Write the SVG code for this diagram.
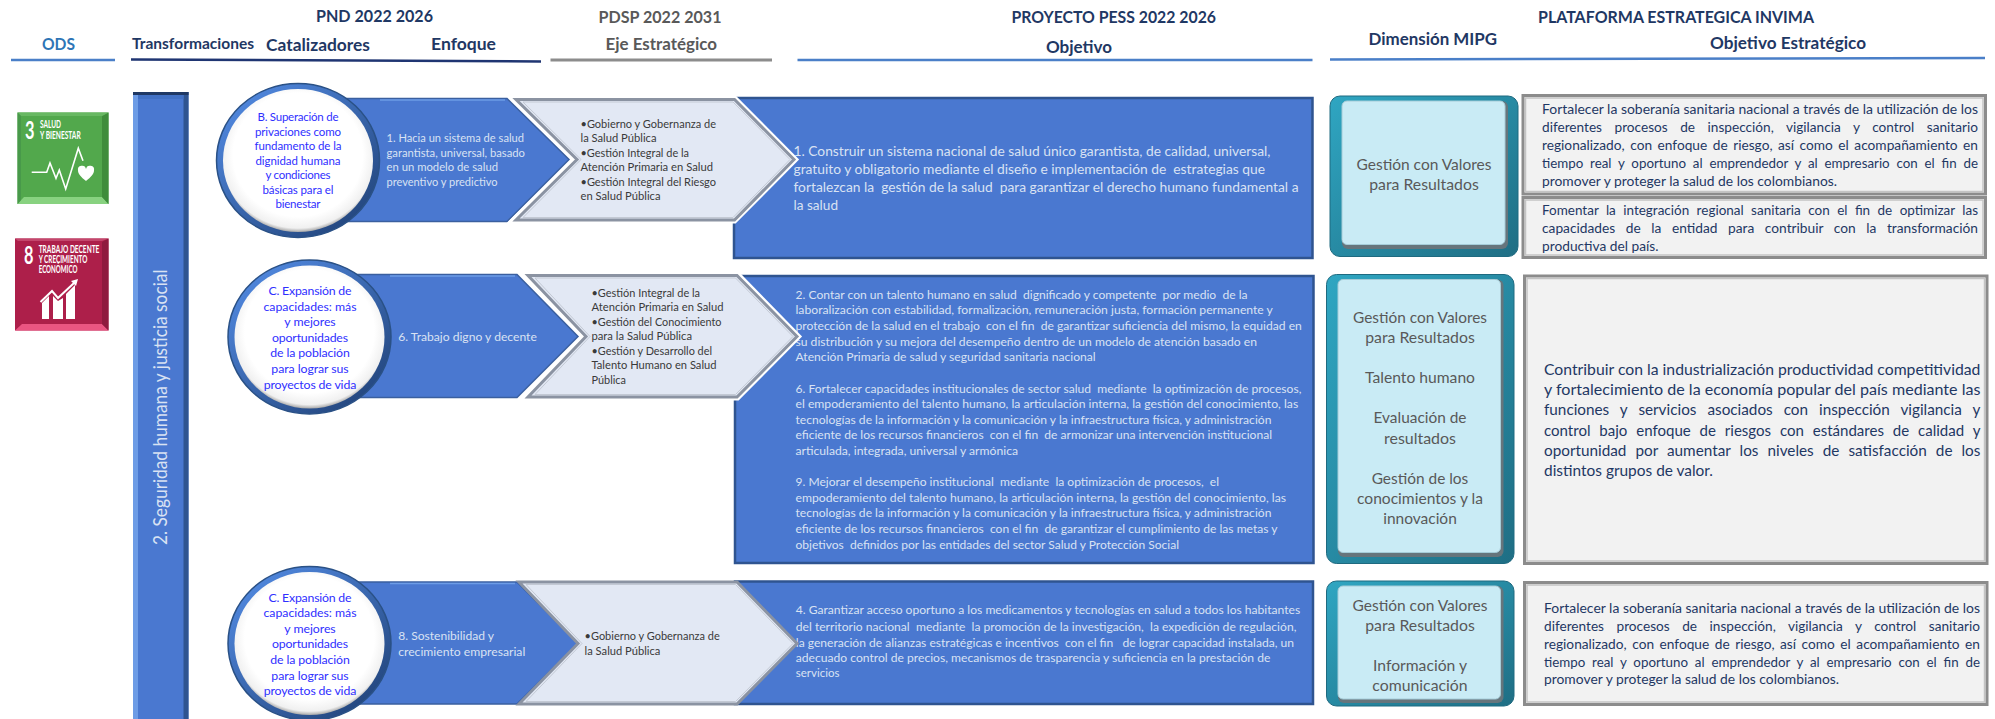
<svg xmlns="http://www.w3.org/2000/svg" width="1995" height="719" viewBox="0 0 1995 719">
<style>
text{font-family:Lato,"Open Sans","Liberation Sans",sans-serif;white-space:pre}
.h{font-size:17px;font-weight:700;fill:#1f3864}
.hg{font-size:17px;font-weight:700;fill:#595959}
.w11{font-size:11.5px;fill:#d9e2f3}
.w12{font-size:12px;fill:#d9e2f3}
.w13{font-size:13.5px;fill:#d9e2f3}
.k{font-size:11.5px;fill:#3a3a3a}
.c{font-size:11.5px;fill:#2f2fff;text-anchor:middle}
.c2{font-size:12.3px;fill:#2f2fff;text-anchor:middle}
.t{font-size:15px;fill:#595959;text-anchor:middle}
.n{font-size:13.6px;fill:#1f3864}
.n2{font-size:15px;fill:#1f3864}
.s{font-weight:700;fill:#fff}
.blue{fill:#4a78d0;stroke:#2f5490;stroke-width:2.5}
.chev{fill:#4a78d0;stroke:#3a5f9f;stroke-width:1.5}
.gchev{fill:#e2e8f4;stroke:#8b93a2;stroke-width:3}
.gi{fill:none;stroke:#c3c9d4;stroke-width:1}
.gbox{fill:#f2f2f2;stroke:#8c8c8c;stroke-width:3}
.gin{fill:none;stroke:#c4c4c4;stroke-width:1.5}
.teal{fill:url(#tg);stroke:#1f6a80;stroke-width:1}
.tsh{fill:#66757c}
.tin{fill:#c9ebf5;stroke:#a5ccd8;stroke-width:1}
.ring{fill:url(#rg);stroke:#2a5186;stroke-width:1.5}
.in{fill:url(#cg)}
</style>
<defs>
<linearGradient id="tg" x1="0" y1="0" x2="1" y2="1"><stop offset="0" stop-color="#2fa6c2"/><stop offset="1" stop-color="#1f6e84"/></linearGradient>
<linearGradient id="rg" x1="0.15" y1="0.1" x2="0.85" y2="0.9"><stop offset="0" stop-color="#4f86dc"/><stop offset="1" stop-color="#24477f"/></linearGradient>
<radialGradient id="cg" cx="0.5" cy="0.46" r="0.54"><stop offset="0.8" stop-color="#fff"/><stop offset="0.95" stop-color="#f0f0f0"/><stop offset="1" stop-color="#a8a8a8"/></radialGradient>
</defs>

<g id="headers">
<text class="h" x="316" y="22" textLength="117" lengthAdjust="spacingAndGlyphs">PND 2022 2026</text>
<text x="42" y="50" textLength="33" lengthAdjust="spacingAndGlyphs" style="font-size:17px;font-weight:700;fill:#2e75b6">ODS</text>
<text class="h" x="132" y="48.5" textLength="122" lengthAdjust="spacingAndGlyphs" style="font-size:15.5px">Transformaciones</text>
<text class="h" x="266" y="50.5" textLength="104" lengthAdjust="spacingAndGlyphs">Catalizadores</text>
<text class="h" x="431" y="50" textLength="65" lengthAdjust="spacingAndGlyphs">Enfoque</text>
<text class="hg" x="598.5" y="23" textLength="123" lengthAdjust="spacingAndGlyphs">PDSP 2022 2031</text>
<text class="hg" x="605.5" y="50" textLength="111.5" lengthAdjust="spacingAndGlyphs">Eje Estratégico</text>
<text class="h" x="1011.5" y="22.5" textLength="204.5" lengthAdjust="spacingAndGlyphs">PROYECTO PESS 2022 2026</text>
<text class="h" x="1046" y="52.5" textLength="66" lengthAdjust="spacingAndGlyphs">Objetivo</text>
<text class="h" x="1538" y="22.5" textLength="276" lengthAdjust="spacingAndGlyphs">PLATAFORMA ESTRATEGICA INVIMA</text>
<text class="h" x="1368.5" y="44.5" textLength="128.5" lengthAdjust="spacingAndGlyphs">Dimensión MIPG</text>
<text class="h" x="1710" y="48.5" textLength="156" lengthAdjust="spacingAndGlyphs">Objetivo Estratégico</text>
<path d="M11 60H115" stroke="#4a7fc8" stroke-width="2.5"/>
<path d="M131 59.5L541 61.5" stroke="#1f3572" stroke-width="2.5"/>
<path d="M550.5 60H772" stroke="#8c8c8c" stroke-width="3"/>
<path d="M797.5 60H1312.5" stroke="#4a7fc8" stroke-width="2.5"/>
<path d="M1330 59.5L1985 58" stroke="#4a7fc8" stroke-width="2.5"/>
</g>

<g id="ods-3">
<rect x="17.5" y="112.5" width="91" height="91.5" fill="#52a84c"/>
<polygon points="17.5,204 108.5,204 102,197 24,197" fill="#88d280"/>
<polygon points="108.5,112.5 108.5,204 102,197 102,116" fill="#3f8d3b"/>
<polygon points="17.5,112.5 108.5,112.5 102,116 21,116" fill="#68b862"/>
<polygon points="17.5,112.5 17.5,204 21,200 21,116" fill="#48994a"/>
<text class="s" x="25" y="139" textLength="9.5" lengthAdjust="spacingAndGlyphs" style="font-size:25px">3</text>
<text class="s" x="40" y="128" textLength="21" lengthAdjust="spacingAndGlyphs" style="font-size:10.5px">SALUD</text>
<text class="s" x="40" y="139" textLength="40.7" lengthAdjust="spacingAndGlyphs" style="font-size:10.5px">Y BIENESTAR</text>
<polyline points="31.7,172.3 46.7,172.3 50,163 56,178.3 59.3,170 65.7,189 78.3,148.3 83,160.7" fill="none" stroke="#fff" stroke-width="1.6"/>
<path d="M86 181c-5-4-8-7-8-10.5a4 4 0 0 1 8-1.5a4 4 0 0 1 8 1.5c0 3.5-3 6.5-8 10.5z" fill="#fff"/>
</g>
<g id="ods-8">
<rect x="15" y="238.5" width="93.5" height="92" fill="#ad1f4a"/>
<polygon points="15,330.5 108.5,330.5 102,324 22,324" fill="#ea5582"/>
<polygon points="108.5,238.5 108.5,330.5 102,324 102,242" fill="#8f1a3e"/>
<polygon points="15,238.5 108.5,238.5 102,241 18,241" fill="#c4466c"/>
<text class="s" x="24" y="264" textLength="9.5" lengthAdjust="spacingAndGlyphs" style="font-size:25px">8</text>
<text class="s" x="38.7" y="253" textLength="60.7" lengthAdjust="spacingAndGlyphs" style="font-size:10.5px">TRABAJO DECENTE</text>
<text class="s" x="38.7" y="263.3" textLength="48.7" lengthAdjust="spacingAndGlyphs" style="font-size:10.5px">Y CRECIMIENTO</text>
<text class="s" x="38.7" y="273.3" textLength="38.7" lengthAdjust="spacingAndGlyphs" style="font-size:10.5px">ECONÓMICO</text>
<polygon points="42,303 49,296 49,319 42,319" fill="#fff"/>
<polygon points="53,296 58,301 63,298 63,319 53,319" fill="#fff"/>
<polygon points="66,294 75,285 75,319 66,319" fill="#fff"/>
<polyline points="40.5,302 52,291 58,298 74,283" fill="none" stroke="#fff" stroke-width="2"/>
<polygon points="78,279 71,281 76,286" fill="#fff"/>
</g>

<g id="eje-seguridad">
<rect x="133" y="92" width="55.5" height="627" fill="#4a78d0"/>
<rect x="133" y="92" width="5" height="627" fill="#6d9ce6"/>
<rect x="183.5" y="92" width="5" height="627" fill="#2f5490"/>
<rect x="133" y="92" width="55.5" height="3" fill="#1f3864"/>
<rect x="138" y="95" width="45.5" height="4" fill="#4170c4"/>
<text transform="translate(166.7 545) rotate(-90)" x="0" y="0" textLength="275.5" lengthAdjust="spacingAndGlyphs" style="font-size:18.5px;fill:#d9e2f3">2. Seguridad humana y justicia social</text>
</g>

<g id="objetivo-1">
<rect class="blue" x="734" y="98" width="578.5" height="160"/>
<text class="w13" x="793.5" y="156" textLength="477" lengthAdjust="spacingAndGlyphs">1. Construir un sistema nacional de salud único garantista, de calidad, universal,</text>
<text class="w13" x="793.5" y="174" textLength="471.5" lengthAdjust="spacingAndGlyphs">gratuito y obligatorio mediante el diseño e implementación de  estrategias que</text>
<text class="w13" x="793.5" y="192" textLength="505" lengthAdjust="spacingAndGlyphs">fortalezcan la  gestión de la salud  para garantizar el derecho humano fundamental a</text>
<text class="w13" x="793.5" y="210" textLength="44.5" lengthAdjust="spacingAndGlyphs">la salud</text>
</g>
<g id="objetivo-2">
<rect class="blue" x="735" y="276" width="578.5" height="287"/>
<text class="w12" x="795.5" y="299" textLength="452" lengthAdjust="spacingAndGlyphs">2. Contar con un talento humano en salud  dignificado y competente  por medio  de la</text>
<text class="w12" x="795.5" y="314.3" textLength="477.4" lengthAdjust="spacingAndGlyphs">laboralización con estabilidad, formalización, remuneración justa, formación permanente y</text>
<text class="w12" x="795.5" y="330" textLength="506.3" lengthAdjust="spacingAndGlyphs">protección de la salud en el trabajo  con el fin  de garantizar suficiencia del mismo, la equidad en</text>
<text class="w12" x="795.5" y="345.7" textLength="461.5" lengthAdjust="spacingAndGlyphs">su distribución y su mejora del desempeño dentro de un modelo de atención basado en</text>
<text class="w12" x="795.5" y="361.3" textLength="300.2" lengthAdjust="spacingAndGlyphs">Atención Primaria de salud y seguridad sanitaria nacional</text>
<text class="w12" x="795.5" y="392.7" textLength="505.9" lengthAdjust="spacingAndGlyphs">6. Fortalecer capacidades institucionales de sector salud  mediante  la optimización de procesos,</text>
<text class="w12" x="795.5" y="408" textLength="502.7" lengthAdjust="spacingAndGlyphs">el empoderamiento del talento humano, la articulación interna, la gestión del conocimiento, las</text>
<text class="w12" x="795.5" y="423.7" textLength="475.9" lengthAdjust="spacingAndGlyphs">tecnologías de la información y la comunicación y la infraestructura física, y administración</text>
<text class="w12" x="795.5" y="439.3" textLength="476.5" lengthAdjust="spacingAndGlyphs">eficiente de los recursos financieros  con el fin  de armonizar una intervención institucional</text>
<text class="w12" x="795.5" y="455" textLength="222.5" lengthAdjust="spacingAndGlyphs">articulada, integrada, universal y armónica</text>
<text class="w12" x="795.5" y="486" textLength="423.5" lengthAdjust="spacingAndGlyphs">9. Mejorar el desempeño institucional  mediante  la optimización de procesos,  el</text>
<text class="w12" x="795.5" y="501.7" textLength="490.5" lengthAdjust="spacingAndGlyphs">empoderamiento del talento humano, la articulación interna, la gestión del conocimiento, las</text>
<text class="w12" x="795.5" y="517.3" textLength="475.9" lengthAdjust="spacingAndGlyphs">tecnologías de la información y la comunicación y la infraestructura física, y administración</text>
<text class="w12" x="795.5" y="533" textLength="482" lengthAdjust="spacingAndGlyphs">eficiente de los recursos financieros  con el fin  de garantizar el cumplimiento de las metas y</text>
<text class="w12" x="795.5" y="548.7" textLength="383.5" lengthAdjust="spacingAndGlyphs">objetivos  definidos por las entidades del sector Salud y Protección Social</text>
</g>
<g id="objetivo-3">
<rect class="blue" x="735" y="581.5" width="578" height="122.5"/>
<text class="w12" x="795.8" y="614.3" textLength="504.4" lengthAdjust="spacingAndGlyphs">4. Garantizar acceso oportuno a los medicamentos y tecnologías en salud a todos los habitantes</text>
<text class="w12" x="795.8" y="630.7" textLength="500.6" lengthAdjust="spacingAndGlyphs">del territorio nacional  mediante  la promoción de la investigación,  la expedición de regulación,</text>
<text class="w12" x="795.8" y="646.7" textLength="498.2" lengthAdjust="spacingAndGlyphs">la generación de alianzas estratégicas e incentivos  con el fin   de lograr capacidad instalada, un</text>
<text class="w12" x="795.8" y="661.7" textLength="474.6" lengthAdjust="spacingAndGlyphs">adecuado control de precios, mecanismos de trasparencia y suficiencia en la prestación de</text>
<text class="w12" x="795.8" y="677.3" textLength="43.7" lengthAdjust="spacingAndGlyphs">servicios</text>
</g>

<g id="enfoque-1">
<polygon class="chev" points="330,98.5 507,98.5 569,159.5 507,221.5 330,221.5"/>
<path d="M380 100H505" stroke="#6d9ce6" stroke-width="1.5"/>
<text class="w11" x="386.5" y="142" textLength="137.5" lengthAdjust="spacingAndGlyphs">1. Hacia un sistema de salud</text>
<text class="w11" x="386.5" y="156.7" textLength="138.5" lengthAdjust="spacingAndGlyphs">garantista, universal, basado</text>
<text class="w11" x="386.5" y="171" textLength="111.5" lengthAdjust="spacingAndGlyphs">en un modelo de salud</text>
<text class="w11" x="386.5" y="185.7" textLength="111" lengthAdjust="spacingAndGlyphs">preventivo y predictivo</text>
</g>
<g id="eje-1">
<polygon points="510,97 735,97 797,159.5 735,222 510,222 574,159.5" fill="#fff" stroke="#fff" stroke-width="3"/>
<polygon class="gchev" points="516,99.5 734.5,99.5 794,159.5 734.5,220 516,220 577,159.5"/>
<polygon class="gi" points="523,102 733,102 790,159.5 733,217.5 523,217.5 581,159.5"/>
<text class="k" x="580.5" y="127.7" textLength="135.5" lengthAdjust="spacingAndGlyphs">•Gobierno y Gobernanza de</text>
<text class="k" x="580.5" y="142" textLength="76" lengthAdjust="spacingAndGlyphs">la Salud Pública</text>
<text class="k" x="580.5" y="156.7" textLength="108.5" lengthAdjust="spacingAndGlyphs">•Gestión Integral de la</text>
<text class="k" x="580.5" y="171" textLength="132.5" lengthAdjust="spacingAndGlyphs">Atención Primaria en Salud</text>
<text class="k" x="580.5" y="185.7" textLength="135.5" lengthAdjust="spacingAndGlyphs">•Gestión Integral del Riesgo</text>
<text class="k" x="580.5" y="200" textLength="80" lengthAdjust="spacingAndGlyphs">en Salud Pública</text>
</g>
<g id="catalizador-1">
<ellipse class="ring" cx="298" cy="160.5" rx="81.5" ry="77"/>
<ellipse class="in" cx="298" cy="160.5" rx="75" ry="71.5"/>
<text class="c" x="298" y="120.7" textLength="81">B. Superación de</text>
<text class="c" x="298" y="135.7" textLength="86">privaciones como</text>
<text class="c" x="298" y="150" textLength="87">fundamento de la</text>
<text class="c" x="298" y="164.7" textLength="85">dignidad humana</text>
<text class="c" x="298" y="179" textLength="65">y condiciones</text>
<text class="c" x="298" y="193.7" textLength="71">básicas para el</text>
<text class="c" x="298" y="208" textLength="45">bienestar</text>
</g>

<g id="enfoque-2">
<polygon class="chev" points="340,274.5 517,274.5 578,336.5 517,397.5 340,397.5"/>
<path d="M390 276H515" stroke="#6d9ce6" stroke-width="1.5"/>
<text class="w12" x="398.2" y="341" textLength="138.6" lengthAdjust="spacingAndGlyphs">6. Trabajo digno y decente</text>
</g>
<g id="eje-2">
<polygon points="522,273 738,273 800,336.5 738,399 522,399 583,336.5" fill="#fff" stroke="#fff" stroke-width="3"/>
<polygon class="gchev" points="528,275.5 737,275.5 797,336.5 737,397 528,397 586,336.5"/>
<polygon class="gi" points="535,278 735.5,278 793,336.5 735.5,394.500 535,394.500 590,336.5"/>
<text class="k" x="591.5" y="296.7" textLength="108.5" lengthAdjust="spacingAndGlyphs">•Gestión Integral de la</text>
<text class="k" x="591.5" y="311.3" textLength="132" lengthAdjust="spacingAndGlyphs">Atención Primaria en Salud</text>
<text class="k" x="591.5" y="325.7" textLength="130" lengthAdjust="spacingAndGlyphs">•Gestión del Conocimiento</text>
<text class="k" x="591.5" y="340.3" textLength="100.5" lengthAdjust="spacingAndGlyphs">para la Salud Pública</text>
<text class="k" x="591.5" y="354.7" textLength="120.5" lengthAdjust="spacingAndGlyphs">•Gestión y Desarrollo del</text>
<text class="k" x="591.5" y="369.3" textLength="125" lengthAdjust="spacingAndGlyphs">Talento Humano en Salud</text>
<text class="k" x="591.5" y="383.7" textLength="34.5" lengthAdjust="spacingAndGlyphs">Pública</text>
</g>
<g id="catalizador-2">
<ellipse class="ring" cx="309.5" cy="337" rx="81.5" ry="77"/>
<ellipse class="in" cx="309.5" cy="337" rx="75" ry="71.5"/>
<text class="c2" x="310" y="295" textLength="83">C. Expansión de</text>
<text class="c2" x="310" y="310.7" textLength="93">capacidades: más</text>
<text class="c2" x="310" y="326" textLength="51.3">y mejores</text>
<text class="c2" x="310" y="341.7" textLength="76">oportunidades</text>
<text class="c2" x="310" y="357.3" textLength="79.6">de la población</text>
<text class="c2" x="310" y="373" textLength="77.3">para lograr sus</text>
<text class="c2" x="310" y="388.7" textLength="92.6">proyectos de vida</text>
</g>

<g id="enfoque-3">
<polygon class="chev" points="340,582 517,582 578,643.5 517,704 340,704"/>
<path d="M390 583.5H515" stroke="#6d9ce6" stroke-width="1.5"/>
<text class="w12" x="398.2" y="640" textLength="95.8" lengthAdjust="spacingAndGlyphs">8. Sostenibilidad y</text>
<text class="w12" x="398.2" y="655.7" textLength="127.1" lengthAdjust="spacingAndGlyphs">crecimiento empresarial</text>
</g>
<g id="eje-3">
<polygon class="gchev" points="519,582 737,582 797,643.5 737,704 519,704 578,643.5"/>
<polygon class="gi" points="526,584.500 735.5,584.500 793,643.5 735.5,701.500 526,701.500 582,643.5"/>
<text class="k" x="584.6" y="640" textLength="135.1" lengthAdjust="spacingAndGlyphs">•Gobierno y Gobernanza de</text>
<text class="k" x="584.6" y="654.7" textLength="75.8" lengthAdjust="spacingAndGlyphs">la Salud Pública</text>
</g>
<g id="catalizador-3">
<ellipse class="ring" cx="309.5" cy="643.5" rx="81.5" ry="77"/>
<ellipse class="in" cx="309.5" cy="643.5" rx="75" ry="71.5"/>
<text class="c2" x="310" y="601.7" textLength="83">C. Expansión de</text>
<text class="c2" x="310" y="617.3" textLength="93">capacidades: más</text>
<text class="c2" x="310" y="633" textLength="51.3">y mejores</text>
<text class="c2" x="310" y="648.3" textLength="76">oportunidades</text>
<text class="c2" x="310" y="664" textLength="79.6">de la población</text>
<text class="c2" x="310" y="680" textLength="77.3">para lograr sus</text>
<text class="c2" x="310" y="695.3" textLength="92.6">proyectos de vida</text>
</g>

<g id="mipg-1">
<rect class="teal" x="1330" y="96" width="188" height="160.5" rx="10"/>
<rect class="tsh" x="1342" y="101" width="166" height="148" rx="6"/>
<rect class="tin" x="1342" y="101" width="163" height="143.500" rx="5"/>
<text class="t" x="1424" y="170" textLength="135" lengthAdjust="spacingAndGlyphs">Gestión con Valores</text>
<text class="t" x="1424" y="190" textLength="109.5" lengthAdjust="spacingAndGlyphs">para Resultados</text>
</g>
<g id="mipg-2">
<rect class="teal" x="1326.5" y="274.5" width="187.5" height="289" rx="10"/>
<rect class="tsh" x="1338" y="279.5" width="165.500" height="277.500" rx="6"/>
<rect class="tin" x="1338" y="279.5" width="162.500" height="273" rx="5"/>
<text class="t" x="1420" y="323.3" textLength="134" lengthAdjust="spacingAndGlyphs">Gestión con Valores</text>
<text class="t" x="1420" y="343.3" textLength="109.5" lengthAdjust="spacingAndGlyphs">para Resultados</text>
<text class="t" x="1420" y="383.3" textLength="110" lengthAdjust="spacingAndGlyphs">Talento humano</text>
<text class="t" x="1420" y="423.3" textLength="93" lengthAdjust="spacingAndGlyphs">Evaluación de</text>
<text class="t" x="1420" y="443.7" textLength="72" lengthAdjust="spacingAndGlyphs">resultados</text>
<text class="t" x="1420" y="483.7" textLength="96.6" lengthAdjust="spacingAndGlyphs">Gestión de los</text>
<text class="t" x="1420" y="503.7" textLength="126" lengthAdjust="spacingAndGlyphs">conocimientos y la</text>
<text class="t" x="1420" y="523.7" textLength="73.6" lengthAdjust="spacingAndGlyphs">innovación</text>
</g>
<g id="mipg-3">
<rect class="teal" x="1326.5" y="581" width="187.5" height="125" rx="10"/>
<rect class="tsh" x="1338" y="586" width="165.500" height="117" rx="6"/>
<rect class="tin" x="1338" y="586" width="162.500" height="113" rx="5"/>
<text class="t" x="1420" y="610.7" textLength="135" lengthAdjust="spacingAndGlyphs">Gestión con Valores</text>
<text class="t" x="1420" y="630.7" textLength="109.5" lengthAdjust="spacingAndGlyphs">para Resultados</text>
<text class="t" x="1420" y="670.7" textLength="94" lengthAdjust="spacingAndGlyphs">Información y</text>
<text class="t" x="1420" y="690.7" textLength="95.3" lengthAdjust="spacingAndGlyphs">comunicación</text>
</g>

<g id="estrategico-1a">
<rect class="gbox" x="1523" y="95.5" width="462.5" height="98.5"/>
<rect class="gin" x="1525.500" y="98" width="457.500" height="93.500"/>
<text class="n" x="1542" y="114" textLength="436" lengthAdjust="spacingAndGlyphs">Fortalecer la soberanía sanitaria nacional a través de la utilización de los</text>
<text class="n" x="1542" y="132" textLength="436" lengthAdjust="spacingAndGlyphs" word-spacing="9">diferentes procesos de inspección, vigilancia y control sanitario</text>
<text class="n" x="1542" y="150" textLength="436" lengthAdjust="spacingAndGlyphs" word-spacing="2">regionalizado, con enfoque de riesgo, así como el acompañamiento en</text>
<text class="n" x="1542" y="167.7" textLength="436" lengthAdjust="spacingAndGlyphs" word-spacing="3.5">tiempo real y oportuno al emprendedor y al empresario con el fin de</text>
<text class="n" x="1542" y="185.7" textLength="295" lengthAdjust="spacingAndGlyphs">promover y proteger la salud de los colombianos.</text>
</g>
<g id="estrategico-1b">
<rect class="gbox" x="1523" y="197.5" width="462.5" height="60"/>
<rect class="gin" x="1525.500" y="200" width="457.500" height="55"/>
<text class="n" x="1542" y="214.7" textLength="436" lengthAdjust="spacingAndGlyphs" word-spacing="4">Fomentar la integración regional sanitaria con el fin de optimizar las</text>
<text class="n" x="1542" y="232.7" textLength="436" lengthAdjust="spacingAndGlyphs" word-spacing="7">capacidades de la entidad para contribuir con la transformación</text>
<text class="n" x="1542" y="250.7" textLength="116.5" lengthAdjust="spacingAndGlyphs">productiva del país.</text>
</g>
<g id="estrategico-2">
<rect class="gbox" x="1524.5" y="276" width="462.5" height="287.5"/>
<rect class="gin" x="1527" y="278.500" width="457.500" height="282.500"/>
<text class="n2" x="1544" y="375.3" textLength="436.4" lengthAdjust="spacingAndGlyphs">Contribuir con la industrialización productividad competitividad</text>
<text class="n2" x="1544" y="395.3" textLength="436.4" lengthAdjust="spacingAndGlyphs">y fortalecimiento de la economía popular del país mediante las</text>
<text class="n2" x="1544" y="415.3" textLength="436.4" lengthAdjust="spacingAndGlyphs" word-spacing="7">funciones y servicios asociados con inspección vigilancia y</text>
<text class="n2" x="1544" y="435.7" textLength="436.4" lengthAdjust="spacingAndGlyphs" word-spacing="5">control bajo enfoque de riesgos con estándares de calidad y</text>
<text class="n2" x="1544" y="455.7" textLength="436.4" lengthAdjust="spacingAndGlyphs" word-spacing="5">oportunidad por aumentar los niveles de satisfacción de los</text>
<text class="n2" x="1544" y="475.7" textLength="169" lengthAdjust="spacingAndGlyphs">distintos grupos de valor.</text>
</g>
<g id="estrategico-3">
<rect class="gbox" x="1524.5" y="582.5" width="462.5" height="122"/>
<rect class="gin" x="1527" y="585" width="457.500" height="117"/>
<text class="n" x="1544" y="612.7" textLength="436" lengthAdjust="spacingAndGlyphs">Fortalecer la soberanía sanitaria nacional a través de la utilización de los</text>
<text class="n" x="1544" y="630.7" textLength="436" lengthAdjust="spacingAndGlyphs" word-spacing="9">diferentes procesos de inspección, vigilancia y control sanitario</text>
<text class="n" x="1544" y="648.7" textLength="436" lengthAdjust="spacingAndGlyphs" word-spacing="2">regionalizado, con enfoque de riesgo, así como el acompañamiento en</text>
<text class="n" x="1544" y="666.7" textLength="436" lengthAdjust="spacingAndGlyphs" word-spacing="3.5">tiempo real y oportuno al emprendedor y al empresario con el fin de</text>
<text class="n" x="1544" y="684.3" textLength="295" lengthAdjust="spacingAndGlyphs">promover y proteger la salud de los colombianos.</text>
</g>
</svg>
